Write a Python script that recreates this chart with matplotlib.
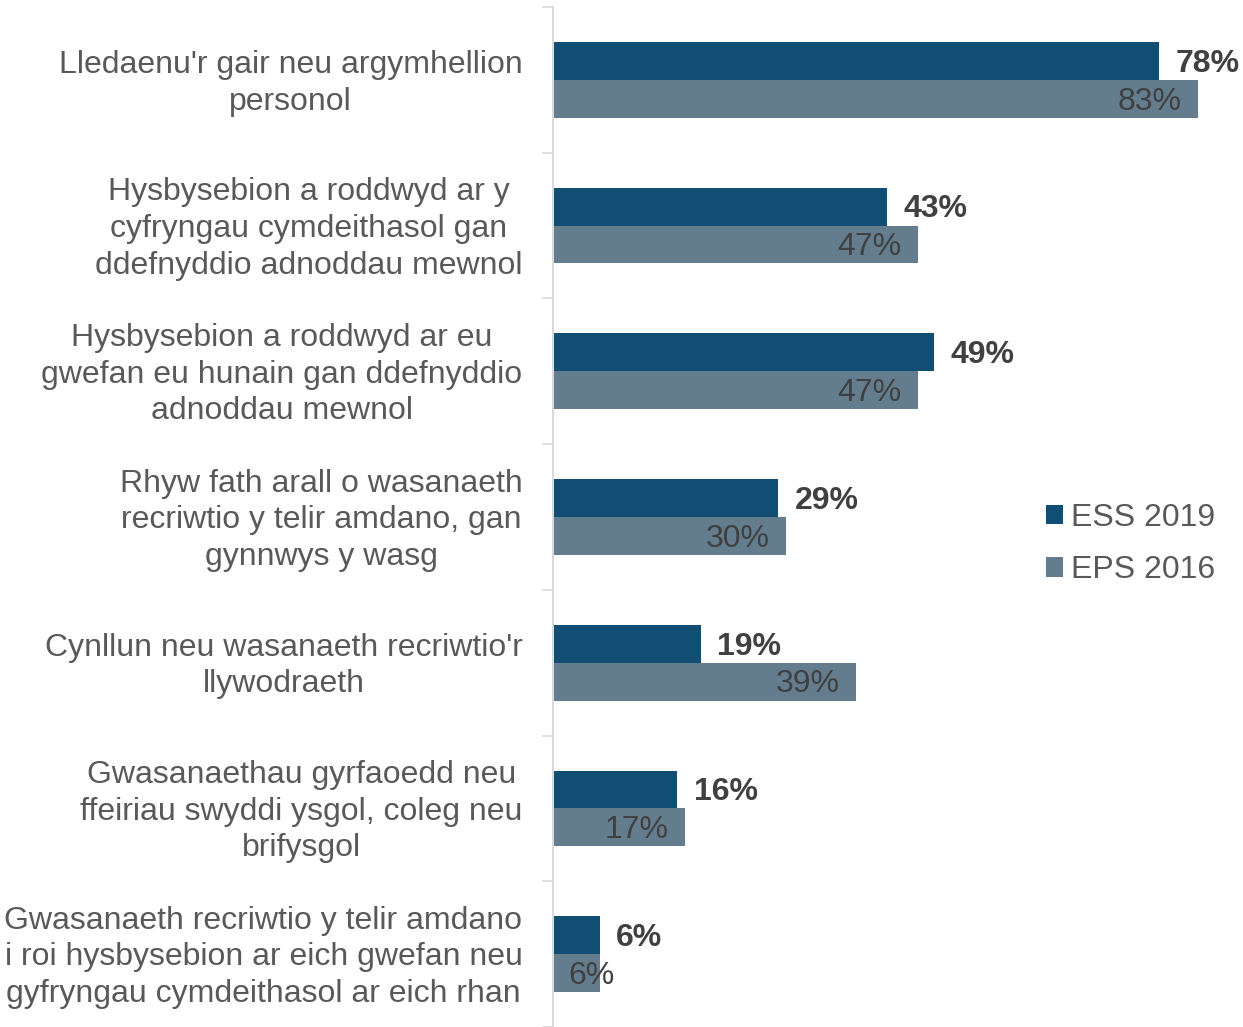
import matplotlib.pyplot as plt
import matplotlib.transforms as mtransforms
import numpy as np

categories = [
    "Lledaenu'r gair neu argymhellion\npersonol",
    "Hysbysebion a roddwyd ar y\ncyfryngau cymdeithasol gan\nddefnyddio adnoddau mewnol",
    "Hysbysebion a roddwyd ar eu\ngwefan eu hunain gan ddefnyddio\nadnoddau mewnol",
    "Rhyw fath arall o wasanaeth\nrecriwtio y telir amdano, gan\ngynnwys y wasg",
    "Cynllun neu wasanaeth recriwtio'r\nllywodraeth",
    "Gwasanaethau gyrfaoedd neu\nffeiriau swyddi ysgol, coleg neu\nbrifysgol",
    "Gwasanaeth recriwtio y telir amdano\ni roi hysbysebion ar eich gwefan neu\ngyfryngau cymdeithasol ar eich rhan",
]
ess_2019 = [78, 43, 49, 29, 19, 16, 6]
eps_2016 = [83, 47, 47, 30, 39, 17, 6]
series_names = ['ESS 2019', 'EPS 2016']

dark = '#104E74'
light = '#647D8E'
text_col = '#595959'
label_col = '#404040'
fs = 23

plt.rcParams['font.family'] = ['Liberation Sans', 'DejaVu Sans']

fig = plt.figure(figsize=(12.43, 10.27), dpi=100)
ax = fig.add_axes([553 / 1243, 0, 687 / 1243, 1 - 7 / 1027])

y = np.arange(len(categories))
h = 0.26
ax.barh(y - h / 2, ess_2019, height=h, color=dark, label=series_names[0])
ax.barh(y + h / 2, eps_2016, height=h, color=light, label=series_names[1])

for i, (a, b) in enumerate(zip(ess_2019, eps_2016)):
    ax.annotate(f'{a}%', (a, i - h / 2), xytext=(12, -2), textcoords='offset points',
                ha='left', va='center', fontsize=fs, fontweight='bold', color=label_col)
    if b > 10:
        ax.annotate(f'{b}%', (b, i + h / 2), xytext=(-12, -2), textcoords='offset points',
                    ha='right', va='center', fontsize=fs, color=label_col)
    else:
        ax.annotate(f'{b}%', (0, i + h / 2), xytext=(11, -2), textcoords='offset points',
                    ha='left', va='center', fontsize=fs, color=label_col)

ax.set_xlim(0, 687 / 7.77)
ax.set_ylim(len(categories) - 0.5, -0.5)
ax.set_yticks(y)
ax.set_yticklabels(categories, fontsize=fs, color=text_col, multialignment='center',
                   linespacing=1.29)
ax.tick_params(axis='y', which='major', length=0, pad=22)
shift = mtransforms.ScaledTranslation(0, 0.035, fig.dpi_scale_trans)
for lab in ax.get_yticklabels():
    lab.set_transform(lab.get_transform() + shift)
ax.set_yticks(np.arange(len(categories) + 1) - 0.5, minor=True)
ax.tick_params(axis='y', which='minor', length=8, color='#D9D9D9', width=1.2)
ax.set_xticks([])
for s in ['top', 'right', 'bottom']:
    ax.spines[s].set_visible(False)
ax.spines['left'].set_color('#D9D9D9')
ax.spines['left'].set_linewidth(1.5)

leg = ax.legend(loc='center left', bbox_to_anchor=(1017 / 1243, 1 - 544 / 1027),
                bbox_transform=fig.transFigure, frameon=False, fontsize=fs,
                handlelength=0.55, handleheight=0.55, handletextpad=0.25, labelspacing=0.7)
for t in leg.get_texts():
    t.set_color(text_col)

fig.savefig('out.png', dpi=100)
